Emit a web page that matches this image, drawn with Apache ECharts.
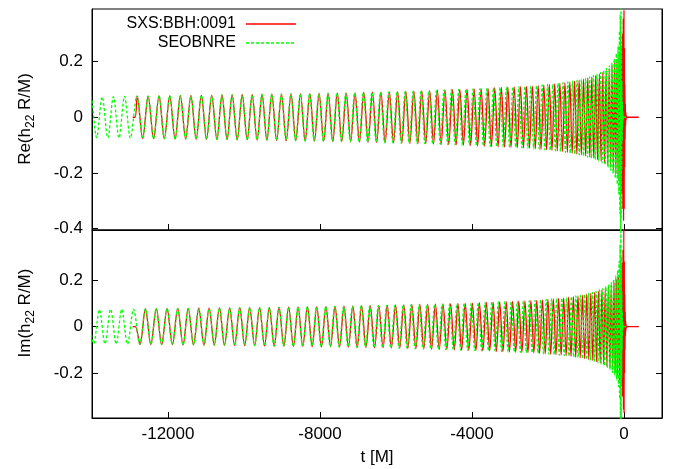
<!DOCTYPE html>
<html>
<head>
<meta charset="utf-8">
<script src="https://cdn.jsdelivr.net/npm/echarts@6/dist/echarts.min.js"></script>
<style>
html,body{margin:0;padding:0;background:#fff;}
#chart{width:678px;height:469px;}
</style>
</head>
<body>
<div id="chart"></div>
<script>
// ---- data (t [M], strain): extrema of each oscillation ----
const xTicks = [-12000, -8000, -4000, 0];
const yTicksRe = [-0.4, -0.2, 0, 0.2];
const yTicksIm = [-0.2, 0, 0.2];
const seriesNames = ['SXS:BBH:0091', 'SEOBNRE'];

const sxsRe = [[-12930,0],[-12865,0],[-12809,.076],[-12666,-.076],[-12522,.076],[-12379,-.077],[-12237,.077],[-12096,-.077],[-11954,.077],[-11814,-.078],[-11674,.078],[-11536,-.078],[-11397,.078],[-11259,-.079],[-11122,.079],[-10986,-.079],[-10849,.079],[-10714,-.080],[-10579,.080],[-10446,-.080],[-10312,.080],[-10179,-.081],[-10047,.081],[-9916,-.081],[-9785,.081],[-9655,-.082],[-9525,.082],[-9397,-.082],[-9268,.083],[-9141,-.083],[-9014,.083],[-8888,-.084],[-8762,.084],[-8638,-.084],[-8513,.084],[-8390,-.085],[-8267,.085],[-8145,-.085],[-8023,.086],[-7903,-.086],[-7783,.086],[-7663,-.087],[-7544,.087],[-7427,-.087],[-7309,.087],[-7193,-.088],[-7077,.088],[-6962,-.089],[-6847,.089],[-6734,-.089],[-6620,.090],[-6508,-.090],[-6396,.090],[-6286,-.091],[-6175,.091],[-6066,-.092],[-5957,.092],[-5849,-.093],[-5742,.093],[-5636,-.094],[-5530,.094],[-5425,-.095],[-5321,.095],[-5218,-.095],[-5114,.096],[-5013,-.096],[-4912,.097],[-4812,-.097],[-4712,.098],[-4613,-.098],[-4515,.099],[-4418,-.099],[-4321,.100],[-4226,-.100],[-4131,.101],[-4037,-.101],[-3944,.102],[-3852,-.103],[-3760,.103],[-3669,-.104],[-3579,.104],[-3490,-.105],[-3402,.106],[-3315,-.106],[-3228,.107],[-3143,-.107],[-3057,.108],[-2974,-.108],[-2890,.109],[-2809,-.109],[-2727,.110],[-2647,-.110],[-2567,.111],[-2489,-.111],[-2411,.112],[-2335,-.113],[-2259,.114],[-2184,-.115],[-2110,.116],[-2038,-.117],[-1965,.118],[-1895,-.119],[-1824,.120],[-1756,-.121],[-1687,.122],[-1621,-.123],[-1554,.124],[-1490,-.126],[-1425,.127],[-1363,-.129],[-1301,.130],[-1241,-.132],[-1181,.133],[-1123,-.135],[-1065,.137],[-1009,-.139],[-953,.141],[-900,-.143],[-847,.145],[-796,-.147],[-745,.150],[-697,-.152],[-648,.155],[-602,-.158],[-557,.161],[-513,-.164],[-470,.168],[-430,-.172],[-389,.176],[-352,-.180],[-315,.185],[-280,-.190],[-246,.196],[-215,-.203],[-184,.210],[-156,-.219],[-129,.229],[-104,-.241],[-81,.256],[-61,-.276],[-44,.300],[-32,-.330],[-21,.355],[-10,-.372],[0,.386],[6,-.33],[12,.25],[18,-.18],[24,.12],[30,-.08],[36,.05],[42,-.03],[48,.018],[55,-.01],[62,.005],[75,0],[390,0]];

const sxsIm = [[-12930,0],[-12860,0],[-12738,-.076],[-12594,.076],[-12451,-.076],[-12308,.077],[-12167,-.077],[-12025,.077],[-11884,-.077],[-11744,.078],[-11605,-.078],[-11467,.078],[-11328,-.078],[-11191,.079],[-11054,-.079],[-10918,.079],[-10782,-.079],[-10647,.080],[-10513,-.080],[-10379,.080],[-10246,-.080],[-10113,.081],[-9982,-.081],[-9851,.081],[-9720,-.081],[-9590,.082],[-9461,-.082],[-9333,.082],[-9205,-.083],[-9078,.083],[-8951,-.083],[-8825,.084],[-8700,-.084],[-8576,.084],[-8452,-.084],[-8329,.085],[-8206,-.085],[-8084,.085],[-7963,-.086],[-7843,.086],[-7723,-.086],[-7604,.087],[-7486,-.087],[-7368,.087],[-7251,-.087],[-7135,.088],[-7020,-.088],[-6905,.089],[-6791,-.089],[-6677,.089],[-6564,-.090],[-6452,.090],[-6341,-.090],[-6231,.091],[-6121,-.091],[-6012,.092],[-5903,-.092],[-5796,.093],[-5689,-.093],[-5583,.094],[-5478,-.094],[-5373,.095],[-5270,-.095],[-5166,.095],[-5064,-.096],[-4963,.096],[-4862,-.097],[-4762,.097],[-4663,-.098],[-4564,.098],[-4467,-.099],[-4370,.099],[-4274,-.100],[-4179,.100],[-4084,-.101],[-3991,.101],[-3898,-.102],[-3806,.103],[-3715,-.103],[-3624,.104],[-3535,-.104],[-3446,.105],[-3359,-.106],[-3272,.106],[-3186,-.107],[-3100,.107],[-3016,-.108],[-2932,.108],[-2850,-.109],[-2768,.109],[-2687,-.110],[-2607,.110],[-2528,-.111],[-2450,.111],[-2373,-.112],[-2297,.113],[-2222,-.114],[-2147,.115],[-2074,-.116],[-2002,.117],[-1930,-.118],[-1860,.119],[-1790,-.120],[-1722,.121],[-1654,-.122],[-1588,.123],[-1522,-.124],[-1458,.126],[-1394,-.127],[-1332,.129],[-1271,-.130],[-1211,.132],[-1152,-.133],[-1094,.135],[-1037,-.137],[-981,.139],[-927,-.141],[-874,.143],[-822,-.145],[-771,.147],[-721,-.150],[-673,.152],[-625,-.155],[-580,.158],[-535,-.161],[-492,.164],[-450,-.168],[-410,.172],[-371,-.176],[-334,.180],[-298,-.185],[-263,.190],[-231,-.196],[-200,.203],[-170,-.210],[-143,.219],[-117,-.229],[-93,.241],[-71,-.256],[-53,.276],[-38,-.300],[-27,.330],[-16,-.355],[-5,.43],[3,-.37],[9,.28],[15,-.2],[21,.14],[27,-.1],[33,.065],[39,-.04],[45,.025],[51,-.015],[58,.008],[66,-.004],[78,0],[390,0]];

const eobRe = [[-14178,-.073],[-14028,.073],[-13880,-.073],[-13731,.073],[-13584,-.074],[-13436,.074],[-13290,-.074],[-13144,.075],[-12990,-.075],[-12820,.076],[-12666,-.076],[-12522,.076],[-12379,-.077],[-12237,.077],[-12096,-.077],[-11954,.077],[-11814,-.078],[-11674,.078],[-11536,-.078],[-11397,.078],[-11259,-.079],[-11122,.079],[-10986,-.079],[-10849,.079],[-10714,-.080],[-10579,.080],[-10446,-.080],[-10312,.080],[-10179,-.081],[-10047,.081],[-9916,-.081],[-9786,.081],[-9656,-.082],[-9527,.082],[-9399,-.082],[-9271,.083],[-9144,-.083],[-9018,.083],[-8892,-.084],[-8767,.084],[-8643,-.084],[-8519,.084],[-8396,-.085],[-8274,.085],[-8152,-.085],[-8031,.086],[-7911,-.086],[-7792,.086],[-7672,-.087],[-7554,.087],[-7437,-.087],[-7320,.087],[-7204,-.088],[-7089,.088],[-6974,-.089],[-6860,.089],[-6747,-.089],[-6634,.090],[-6522,-.090],[-6410,.090],[-6301,-.091],[-6190,.091],[-6082,-.092],[-5973,.092],[-5866,-.093],[-5760,.093],[-5654,-.094],[-5549,.094],[-5445,-.095],[-5341,.095],[-5239,-.095],[-5135,.096],[-5035,-.096],[-4935,.097],[-4835,-.097],[-4736,.098],[-4637,-.098],[-4540,.099],[-4443,-.099],[-4347,.100],[-4253,-.100],[-4158,.101],[-4065,-.101],[-3972,.102],[-3881,-.103],[-3790,.103],[-3699,-.104],[-3610,.104],[-3522,-.105],[-3434,.106],[-3348,-.106],[-3261,.107],[-3177,-.107],[-3092,.108],[-3009,-.108],[-2926,.109],[-2846,-.109],[-2765,.110],[-2686,-.110],[-2606,.111],[-2529,-.111],[-2452,.112],[-2377,-.113],[-2301,.114],[-2227,-.115],[-2154,.116],[-2083,-.117],[-2010,.118],[-1941,-.119],[-1871,.120],[-1804,-.121],[-1736,.122],[-1671,-.123],[-1604,.124],[-1541,-.126],[-1477,.127],[-1416,-.129],[-1354,.130],[-1295,-.132],[-1236,.133],[-1179,-.135],[-1121,.137],[-1066,-.139],[-1011,.141],[-959,-.143],[-906,.145],[-856,-.147],[-806,.150],[-759,-.152],[-711,.155],[-665,-.158],[-621,.161],[-578,-.164],[-536,.168],[-497,-.172],[-457,.176],[-421,-.180],[-384,.185],[-350,-.190],[-317,.196],[-287,-.203],[-257,.210],[-229,-.219],[-203,.229],[-179,-.241],[-157,.256],[-137,-.276],[-121,.31],[-109,-.345],[-98,.37],[-88,-.42],[-78,.42],[-72,-.36],[-66,.27],[-60,-.19],[-54,.13],[-48,-.085],[-42,.055],[-36,-.035],[-30,.02],[-23,-.01],[-15,.004],[0,0],[60,0]];

const eobIm = [[-14103,.073],[-13954,-.073],[-13806,.073],[-13658,-.073],[-13510,.074],[-13363,-.074],[-13217,.074],[-13067,-.075],[-12905,.075],[-12743,-.076],[-12594,.076],[-12451,-.076],[-12308,.077],[-12167,-.077],[-12025,.077],[-11884,-.077],[-11744,.078],[-11605,-.078],[-11467,.078],[-11328,-.078],[-11191,.079],[-11054,-.079],[-10918,.079],[-10782,-.079],[-10647,.080],[-10513,-.080],[-10379,.080],[-10246,-.080],[-10113,.081],[-9982,-.081],[-9851,.081],[-9721,-.081],[-9592,.082],[-9463,-.082],[-9335,.082],[-9208,-.083],[-9081,.083],[-8955,-.083],[-8830,.084],[-8705,-.084],[-8581,.084],[-8458,-.084],[-8335,.085],[-8213,-.085],[-8092,.085],[-7971,-.086],[-7852,.086],[-7732,-.086],[-7613,.087],[-7496,-.087],[-7379,.087],[-7262,-.087],[-7147,.088],[-7032,-.088],[-6917,.089],[-6804,-.089],[-6691,.089],[-6578,-.090],[-6466,.090],[-6356,-.090],[-6246,.091],[-6136,-.091],[-6028,.092],[-5920,-.092],[-5813,.093],[-5707,-.093],[-5602,.094],[-5497,-.094],[-5393,.095],[-5290,-.095],[-5187,.095],[-5085,-.096],[-4985,.096],[-4885,-.097],[-4786,.097],[-4687,-.098],[-4589,.098],[-4492,-.099],[-4395,.099],[-4300,-.100],[-4206,.100],[-4112,-.101],[-4019,.101],[-3927,-.102],[-3836,.103],[-3745,-.103],[-3655,.104],[-3566,-.104],[-3478,.105],[-3391,-.106],[-3305,.106],[-3219,-.107],[-3135,.107],[-3051,-.108],[-2968,.108],[-2886,-.109],[-2806,.109],[-2726,-.110],[-2646,.110],[-2568,-.111],[-2491,.111],[-2415,-.112],[-2339,.113],[-2264,-.114],[-2191,.115],[-2119,-.116],[-2047,.117],[-1976,-.118],[-1906,.119],[-1838,-.120],[-1770,.121],[-1704,-.122],[-1638,.123],[-1573,-.124],[-1509,.126],[-1447,-.127],[-1385,.129],[-1325,-.130],[-1266,.132],[-1208,-.133],[-1150,.135],[-1094,-.137],[-1039,.139],[-985,-.141],[-933,.143],[-881,-.145],[-831,.147],[-783,-.150],[-735,.152],[-688,-.155],[-643,.158],[-600,-.161],[-557,.164],[-517,-.168],[-477,.172],[-439,-.176],[-403,.180],[-367,-.185],[-334,.190],[-302,-.196],[-272,.203],[-243,-.210],[-216,.219],[-191,-.229],[-168,.241],[-147,-.256],[-129,.28],[-115,-.31],[-104,.35],[-93,-.40],[-83,.44],[-75,-.4],[-69,.3],[-63,-.22],[-57,.15],[-51,-.1],[-45,.065],[-39,-.04],[-33,.025],[-27,-.015],[-20,.007],[-10,0],[60,0]];

// ---- chart ----
const FONT = '"Liberation Sans", Arial, Helvetica, sans-serif';
const RED = '#ff0000', GREEN = '#00ff00';
const fmtY = v => Math.abs(v) < 1e-9 ? '0' : (Math.round(v * 10) / 10).toString();
const fmtX = v => String(Math.round(v));

function xAxisCfg(grid, labels) {
  return {
    type: 'value', gridIndex: grid, min: -14000, max: 1000,
    splitLine: {show: false},
    axisLine: {show: true, onZero: false, lineStyle: {color: '#000', width: 1}},
    axisTick: {show: true, inside: true, length: 6, customValues: xTicks, lineStyle: {color: '#000'}},
    axisLabel: {show: labels, customValues: xTicks, margin: 8, color: '#000', fontSize: 17, fontFamily: FONT, formatter: fmtX},
    name: labels ? 't [M]' : '', nameLocation: 'middle', nameGap: 31,
    nameTextStyle: {color: '#000', fontSize: 17, fontFamily: FONT}
  };
}
function yAxisCfg(grid, min, max, ticks, right) {
  return {
    type: 'value', gridIndex: grid, min: min, max: max, position: right ? 'right' : 'left',
    splitLine: {show: false},
    axisLine: {show: true, onZero: false, lineStyle: {color: '#000', width: 1}},
    axisTick: {show: true, inside: true, length: 6, customValues: ticks, lineStyle: {color: '#000'}},
    axisLabel: {show: !right, customValues: ticks, margin: 9, color: '#000', fontSize: 17, fontFamily: FONT, formatter: fmtY}
  };
}
function lineSeries(name, data, xi, yi, color, dashed) {
  return {
    name: name, type: 'line', xAxisIndex: xi, yAxisIndex: yi, data: data,
    showSymbol: false, symbol: 'none', smooth: 0.33, clip: true,
    lineStyle: {color: color, width: 1.3, type: dashed ? [3, 2] : 'solid'},
    emphasis: {disabled: true}, silent: true
  };
}

const chart = echarts.init(document.getElementById('chart'), null, {renderer: 'canvas'});
const titleRich = {
  a: {fontSize: 17, lineHeight: 24, verticalAlign: 'middle', fontFamily: FONT, fill: '#000'},
  b: {fontSize: 12, lineHeight: 12, verticalAlign: 'bottom', fontFamily: FONT, fill: '#000'}
};
chart.setOption({
  animation: false,
  backgroundColor: '#fff',
  grid: [
    {left: 92, right: 16, top: 9, height: 221, show: true, borderColor: '#000', borderWidth: 1, backgroundColor: 'transparent'},
    {left: 92, right: 16, top: 230, height: 188, show: true, borderColor: '#000', borderWidth: 1, backgroundColor: 'transparent'}
  ],
  xAxis: [xAxisCfg(0, false), xAxisCfg(1, true)],
  yAxis: [
    yAxisCfg(0, -0.405, 0.389, yTicksRe, false),
    yAxisCfg(0, -0.405, 0.389, yTicksRe, true),
    yAxisCfg(1, -0.391, 0.414, yTicksIm, false),
    yAxisCfg(1, -0.391, 0.414, yTicksIm, true)
  ],
  series: [
    lineSeries(seriesNames[0], sxsRe, 0, 0, RED, false),
    lineSeries(seriesNames[1], eobRe, 0, 0, GREEN, true),
    lineSeries(seriesNames[0], sxsIm, 1, 2, RED, false),
    lineSeries(seriesNames[1], eobIm, 1, 2, GREEN, true)
  ],
  graphic: [
    {type: 'text', x: 236, y: 24, style: {text: seriesNames[0], textAlign: 'right', textVerticalAlign: 'middle', fontSize: 16, fontFamily: FONT, fill: '#000'}},
    {type: 'line', shape: {x1: 246, y1: 24, x2: 296, y2: 24}, style: {stroke: RED, lineWidth: 1.3}},
    {type: 'text', x: 236, y: 43, style: {text: seriesNames[1], textAlign: 'right', textVerticalAlign: 'middle', fontSize: 16, fontFamily: FONT, fill: '#000'}},
    {type: 'line', shape: {x1: 246, y1: 43, x2: 296, y2: 43}, style: {stroke: GREEN, lineWidth: 1.3, lineDash: [3, 2]}},
    {type: 'text', x: 25, y: 119, rotation: Math.PI / 2,
      style: {text: '{a|Re(h}{b|22}{a| R/M)}', rich: titleRich, textAlign: 'center', textVerticalAlign: 'middle', fill: '#000'}},
    {type: 'text', x: 25, y: 313, rotation: Math.PI / 2,
      style: {text: '{a|Im(h}{b|22}{a| R/M)}', rich: titleRich, textAlign: 'center', textVerticalAlign: 'middle', fill: '#000'}}
  ]
});
</script>
</body>
</html>
